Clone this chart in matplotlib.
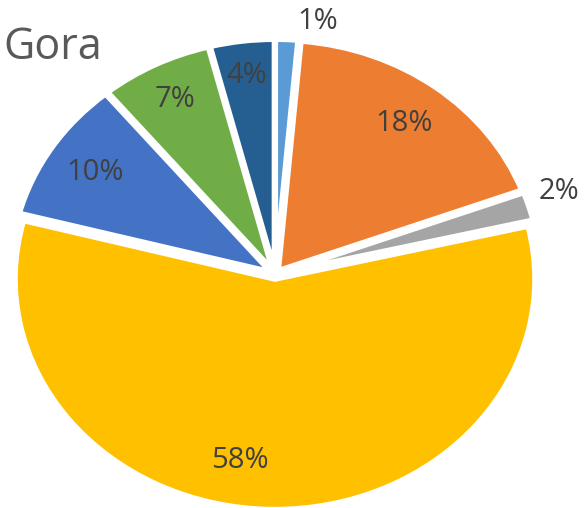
import matplotlib.pyplot as plt
import numpy as np

plt.rcParams['font.family'] = ['Open Sans', 'DejaVu Sans']

# share of each category (clockwise from 12 o'clock)
labels = ["1%", "18%", "2%", "58%", "10%", "7%", "4%"]
values = [1.4, 18, 2, 58, 10, 7, 4]
colors = ['#5B9BD5', '#ED7D31', '#A5A5A5', '#FFC000', '#4472C4', '#70AD47', '#255E91']
label_r = [1.09, 0.80, 1.13, 0.80, 0.80, 0.83, 0.85]
label_shift = [-6, 0, 1.5, -9, 0, 0, 0]   # degrees, tweak of label angle

fig = plt.figure(figsize=(5.85, 5.08), dpi=100)
ax = fig.add_axes([0, 0, 1, 1])

wedges, _ = ax.pie(values, colors=colors, startangle=90, counterclock=False,
                   explode=[0.02] * len(values),
                   wedgeprops=dict(edgecolor='white', linewidth=4))

for w, lab, r, s in zip(wedges, labels, label_r, label_shift):
    ang = np.deg2rad((w.theta1 + w.theta2) / 2 + s)
    cx, cy = w.center
    ax.text(cx + r * np.cos(ang), cy + r * np.sin(ang), lab,
            ha='center', va='center', fontsize=21, color='#404040')

ax.set_aspect('auto')
ax.set_xlim(-1.058, 1.192)
ax.set_ylim(-1.013, 1.19)
ax.axis('off')

fig.text(0.005, 0.906, "Gora", fontsize=31, color='#595959', ha='left', va='center')

plt.savefig("out.png", dpi=100)
